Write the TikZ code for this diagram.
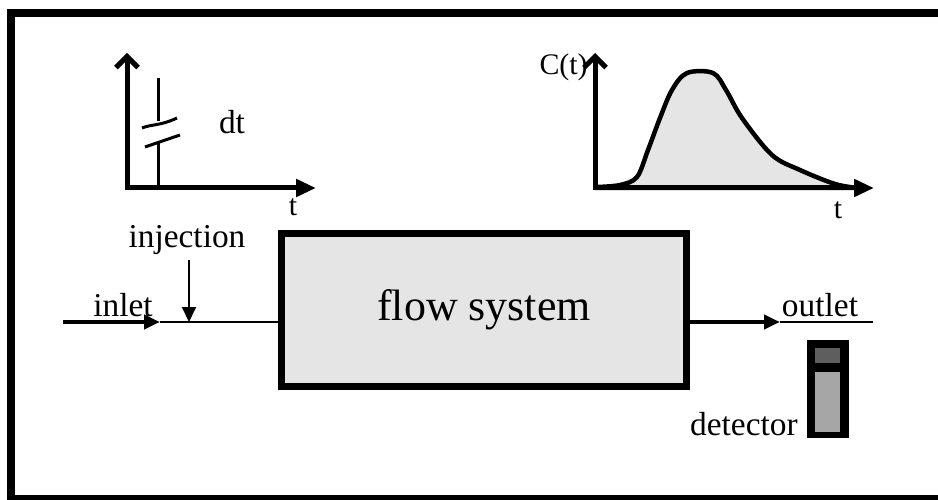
\documentclass[tikz,border=0pt]{standalone}
\usepackage{fontspec}
\setmainfont{Liberation Serif}
\usetikzlibrary{arrows.meta,positioning}

\begin{document}
\begin{tikzpicture}[x=0.02cm, y=-0.02cm, every node/.style={font=\fontsize{19}{22}\selectfont, inner sep=0pt},
	axisline/.style={line width=0.1cm, {Straight Barb[length=2.2mm,width=4.4mm]}-{Triangle[length=4mm,width=3.4mm]}},
	pipe/.style={line width=0.09cm, -{Triangle[length=3.2mm,width=2.8mm]}},
	thinpipe/.style={line width=0.04cm},
	axlabel/.style={font=\fontsize{17}{19}\selectfont}]
	\useasboundingbox (0,0) rectangle (938,500);
	% frame, open on the right
	\draw[line width=0.16cm] (945,13) -- (11,13) -- (11,499) -- (945,499);
	% pulse input
	\coordinate (oa) at (127,188);
	\coordinate (ya) at (127,53);
	\coordinate (xa) at (316,188);
	\draw[axisline] (ya) -- (oa) -- (xa);
	\draw[line width=0.06cm] (158,78) -- (158,121);
	\draw[line width=0.06cm] (142,128) .. controls (152,124) and (160,126) .. (177,118);
	\draw[line width=0.06cm] (145,147) -- (180,135);
	\draw[line width=0.06cm] (158,141) -- (158,188);
	\node (dt) at (232,122) {dt};
	\node[axlabel] (ta) at (293,207) {t};
	% response curve
	\coordinate (ob) at (595,188);
	\coordinate (yb) at (595,53);
	\coordinate (xb) at (874,188);
	\draw[line width=0.09cm, fill=gray!20] (597,188) -- plot[smooth, tension=0.55] coordinates {(597,187) (620,185) (637,177) (648,150) (660,118) (672,90) (687,73) (713,73) (726,90) (742,118) (772,155) (800,170) (835,184) (858,188)} -- cycle;
	\draw[axisline] (yb) -- (ob) -- (xb);
	\node[axlabel, anchor=east] (ct) at (588,67) {C(t)};
	\node[axlabel] (tb) at (838,210) {t};
	% flow system
	\node[draw, line width=0.13cm, fill=gray!20, minimum width=8.1cm, minimum height=3.06cm, font=\fontsize{25}{28}\selectfont] (box) at (484,310) {flow system};
	\coordinate (in) at (63,322);
	\coordinate (inarr) at (160,322);
	\draw[pipe] (in) -- (inarr);
	\draw[thinpipe] (inarr) -- (box.west |- in);
	\node (inlet) at (123,305) {inlet};
	\node (inj) at (187,240) {injection};
	\coordinate (injpt) at (189,322);
	\draw[thinpipe, -{Triangle[length=3mm,width=2.8mm]}] (inj.south -| injpt) ++(0,5) -- (injpt);
	\coordinate (outarr) at (780,322);
	\coordinate (outend) at (873,322);
	\draw[pipe] (box.east |- outarr) -- (outarr);
	\draw[thinpipe] (outarr) -- (outend);
	\node (outlet) at (820,305) {outlet};
	% detector
	\node[draw, fill=black, minimum width=0.82cm, minimum height=1.94cm] (det) at (827.5,388.5) {};
	\fill[gray!60!black!90] (815,348) rectangle (840,363);
	\fill[gray!70] (815,372) rectangle (840,432);
	\node[anchor=base east] (detlabel) at (798,436) {detector};
\end{tikzpicture}
\end{document}
